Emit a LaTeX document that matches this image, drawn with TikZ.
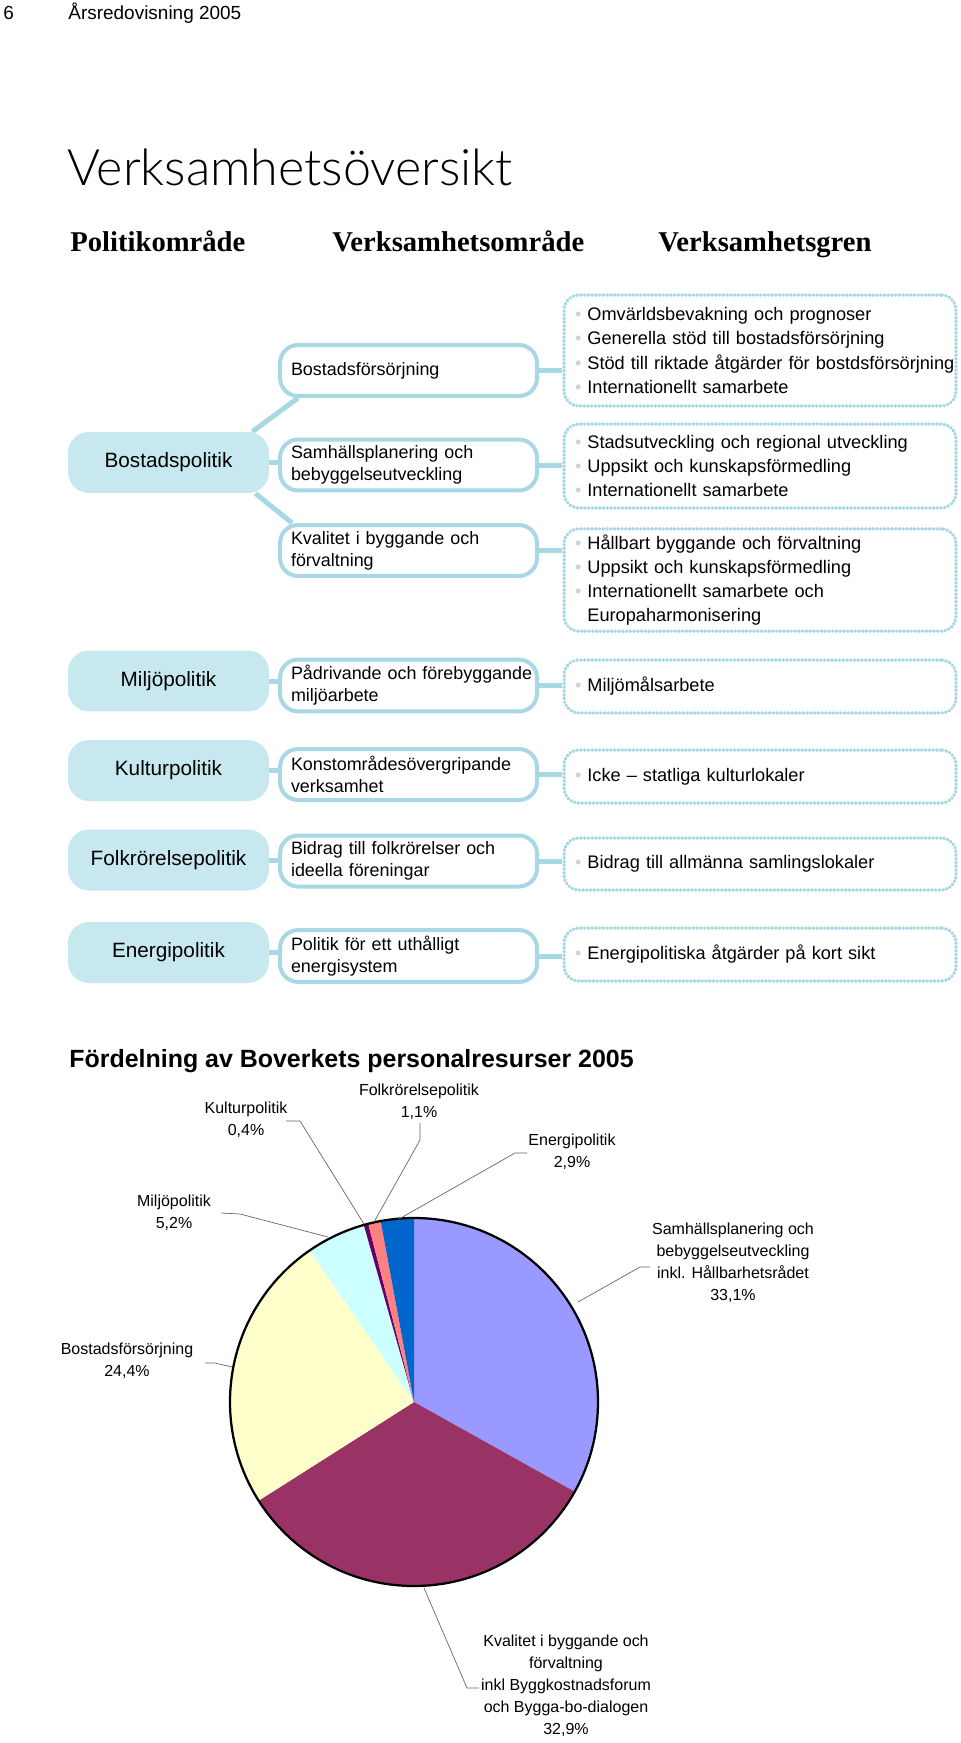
\documentclass[tikz,border=0pt]{standalone}
\usepackage{fontspec}
\setmainfont{Liberation Sans}
\newfontfamily\rubrikfont{Liberation Serif}
\newfontfamily\titelfont{Lato Light}
\usetikzlibrary{backgrounds}

\definecolor{ljusbla}{HTML}{C8E8F0}
\definecolor{kantbla}{HTML}{A8D8E4}
\definecolor{prick}{HTML}{C4D6DC}
\definecolor{samc}{HTML}{9999FF}
\definecolor{kvac}{HTML}{993366}
\definecolor{bosc}{HTML}{FFFFCC}
\definecolor{milc}{HTML}{CCFFFF}
\definecolor{kulc}{HTML}{660066}
\definecolor{folc}{HTML}{FF8080}
\definecolor{enec}{HTML}{0066CC}

\newcommand\gp[1]{\mbox{{\color{prick}\textbullet}\hspace{0.12cm}#1}}

\begin{document}
\begin{tikzpicture}[x=0.02cm,y=-0.02cm,
	politik/.style={fill=ljusbla,rounded corners=0.42cm,minimum width=4.02cm,
		minimum height=1.22cm,font=\fontsize{11.8}{14}\selectfont},
	omr/.style={draw=kantbla,line width=0.08cm,fill=white,rounded corners=0.36cm,
		minimum width=5.14cm,minimum height=1.02cm,text width=4.7cm,inner xsep=0.22cm,
		align=left,font=\fontsize{10.2}{12.5}\selectfont},
	gren/.style={draw=kantbla,line width=0.07cm,dash pattern=on 0.01cm off 0.065cm,
		line cap=round,rounded corners=0.3cm,minimum width=7.84cm,text width=7.4cm,
		inner xsep=0.22cm,align=left,font=\fontsize{10.35}{13.7}\selectfont},
	lank/.style={draw=kantbla,line width=0.1cm},
	ledare/.style={draw=gray!80!black,line width=0.4pt},
	etikett/.style={align=center,inner sep=0,font=\fontsize{9.1}{12.5}\selectfont},
	rubrik/.style={anchor=base west,inner sep=0,font=\rubrikfont\bfseries\fontsize{16.3}{18}\selectfont}]

\useasboundingbox (0,0) rectangle (960,1743);

% sidhuvud
\node[anchor=west,inner sep=0,font=\fontsize{10.8}{12}\selectfont] (sida) at (3,13) {6};
\node[anchor=west,inner sep=0,font=\fontsize{10.8}{12}\selectfont] (rapport) at (68,13) {Årsredovisning 2005};

\node[anchor=west,inner sep=0,font=\titelfont\fontsize{28.6}{31}\selectfont] (titel) at (67,167) {Verksamhetsöversikt};

\node[rubrik] (h1) at (70,252) {Politikområde};
\node[rubrik] (h2) at (332,252) {Verksamhetsområde};
\node[rubrik] (h3) at (658,252) {Verksamhetsgren};

% politikområden
\node[politik] (bp) at (168.5,462.5) {Bostadspolitik};
\node[politik] (mp) at (168.5,681) {Miljöpolitik};
\node[politik] (kp) at (168.5,770.5) {Kulturpolitik};
\node[politik] (fp) at (168.5,860) {Folkrörelsepolitik};
\node[politik] (ep) at (168.5,952.5) {Energipolitik};

% verksamhetsområden
\node[omr] (bf) at (408.5,370.5) {Bostadsförsörjning};
\node[omr] (sp) at (408.5,465) {Samhällsplanering och\\bebyggelseutveckling};
\node[omr] (kb) at (408.5,550.5) {Kvalitet i byggande och\\förvaltning};
\node[omr] (pf) at (408.5,685.5) {\mbox{Pådrivande och förebyggande}\\miljöarbete};
\node[omr] (ko) at (408.5,774.5) {Konstområdesövergripande\\verksamhet};
\node[omr] (bi) at (408.5,861) {Bidrag till folkrörelser och\\ideella föreningar};
\node[omr] (pe) at (408.5,956) {Politik för ett uthålligt\\energisystem};

% verksamhetsgrenar
\node[gren,minimum height=2.22cm] (g1) at (760,350.5) {\gp{Omvärldsbevakning och prognoser}\\
	\gp{Generella stöd till bostadsförsörjning}\\
	\gp{Stöd till riktade åtgärder för bostdsförsörjning}\\
	\gp{Internationellt samarbete}};
\node[gren,minimum height=1.68cm] (g2) at (760,466) {\gp{Stadsutveckling och regional utveckling}\\
	\gp{Uppsikt och kunskapsförmedling}\\
	\gp{Internationellt samarbete}};
\node[gren,minimum height=2.04cm] (g3) at (760,580) {\gp{Hållbart byggande och förvaltning}\\
	\gp{Uppsikt och kunskapsförmedling}\\
	\gp{Internationellt samarbete och}\\
	\hphantom{\textbullet\hspace{0.12cm}}Europaharmonisering};
\node[gren,minimum height=1.06cm] (g4) at (760,686.5) {\gp{Miljömålsarbete}};
\node[gren,minimum height=1.06cm] (g5) at (760,776.5) {\gp{Icke – statliga kulturlokaler}};
\node[gren,minimum height=1.04cm] (g6) at (760,864) {\gp{Bidrag till allmänna samlingslokaler}};
\node[gren,minimum height=1.06cm] (g7) at (760,954.5) {\gp{Energipolitiska åtgärder på kort sikt}};

\begin{scope}[on background layer]
\draw[lank] ([xshift=-0.34cm]bp.north east) -- ([xshift=0.4cm]bf.south west);
\draw[lank] (bp.east) -- (bp.east -| sp.west);
\draw[lank] ([xshift=-0.28cm]bp.south east) -- ([xshift=0.28cm]kb.north west);
\foreach \o/\g in {bf/g1,sp/g2,kb/g3} {
	\draw[lank] (\o.east) -- (\o.east -| \g.west);
}
\foreach \p/\o/\g in {mp/pf/g4,kp/ko/g5,fp/bi/g6,ep/pe/g7} {
	\draw[lank] (\p.east) -- (\p.east -| \o.west);
	\draw[lank] (\o.east) -- (\o.east -| \g.west);
}
\end{scope}

% diagram
\node[anchor=west,inner sep=0,font=\bfseries\fontsize{14.2}{16}\selectfont] (diagram) at (69,1061)
	{Fördelning av Boverkets personalresurser 2005};

\begin{scope}[shift={(414,1402)},x=0.02cm,y=0.02cm]
\foreach \a/\b/\farg in {90/-29.16/samc,-29.16/-147.6/kvac,-147.6/-235.44/bosc,
		-235.44/-254.16/milc,-254.16/-255.6/kulc,-255.6/-259.56/folc,-259.56/-270/enec}
	\fill[\farg] (0,0) -- (\a:184) arc[start angle=\a,end angle=\b,radius=184] -- cycle;
\draw[line width=0.045cm] (0,0) circle[radius=184];
\end{scope}

\node[etikett] (kul) at (246,1120) {Kulturpolitik\\0,4\%};
\node[etikett] (fol) at (419,1102) {Folkrörelsepolitik\\1,1\%};
\node[etikett] (ene) at (572,1152) {Energipolitik\\2,9\%};
\node[etikett] (mil) at (174,1213) {Miljöpolitik\\5,2\%};
\node[etikett] (sam) at (733,1263) {Samhällsplanering och\\bebyggelseutveckling\\inkl. Hållbarhetsrådet\\33,1\%};
\node[etikett] (bos) at (127,1361) {Bostadsförsörjning\\24,4\%};
\node[etikett] (kva) at (566,1686) {Kvalitet i byggande och\\förvaltning\\inkl Byggkostnadsforum\\och Bygga-bo-dialogen\\32,9\%};

\coordinate (kul-a) at (286,1121);
\coordinate (kul-b) at (300,1121);
\coordinate (kul-c) at (364,1224);
\coordinate (fol-a) at (420,1123);
\coordinate (fol-b) at (420,1140);
\coordinate (fol-c) at (374,1222);
\coordinate (ene-a) at (527,1153);
\coordinate (ene-b) at (515,1153);
\coordinate (ene-c) at (399,1219);
\coordinate (mil-a) at (221,1213);
\coordinate (mil-b) at (240,1214);
\coordinate (mil-c) at (328,1237);
\coordinate (sam-a) at (650,1267);
\coordinate (sam-b) at (640,1267);
\coordinate (sam-c) at (578,1302);
\coordinate (bos-a) at (205,1363);
\coordinate (bos-b) at (215,1363);
\coordinate (bos-c) at (232,1367);
\coordinate (kva-a) at (479,1688);
\coordinate (kva-b) at (467,1688);
\coordinate (kva-c) at (424,1588);

\foreach \n in {kul,fol,ene,mil,sam,bos,kva}
	\draw[ledare] (\n-a) -- (\n-b) -- (\n-c);

\end{tikzpicture}
\end{document}
